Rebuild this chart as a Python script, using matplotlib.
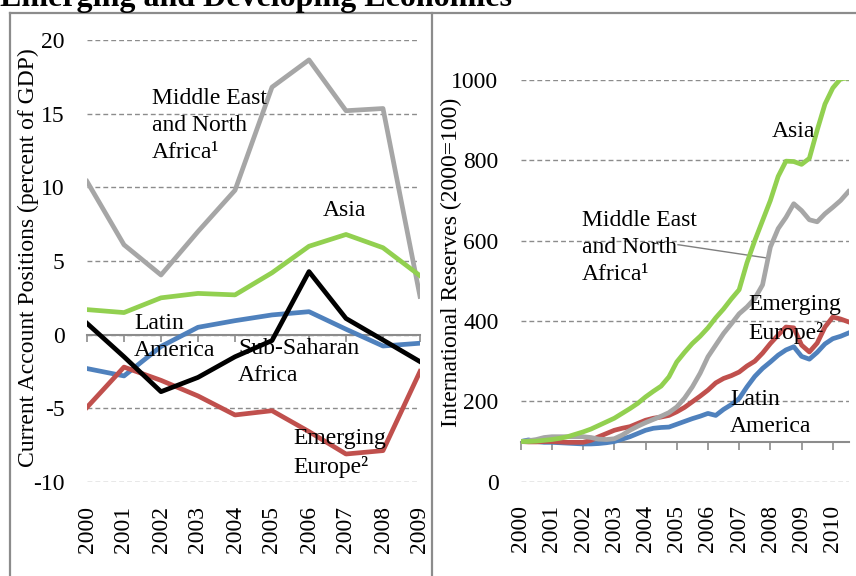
import matplotlib
matplotlib.use("Agg")
import matplotlib.pyplot as plt
from matplotlib.lines import Line2D

plt.rcParams['font.family'] = ['Liberation Serif', 'DejaVu Serif']
plt.rcParams['axes.unicode_minus'] = False

# ---------------- Left panel data: current account (% of GDP) ----------------
years_ca = [2000, 2001, 2002, 2003, 2004, 2005, 2006, 2007, 2008, 2009]
ca_mena = [10.4, 6.1, 4.05, 7.0, 9.8, 16.8, 18.65, 15.2, 15.35, 2.6]
ca_asia = [1.7, 1.5, 2.5, 2.8, 2.7, 4.2, 6.0, 6.8, 5.9, 4.0]
ca_latam = [-2.3, -2.8, -0.8, 0.5, 0.95, 1.34, 1.56, 0.37, -0.77, -0.58]
ca_ssa = [0.77, -1.5, -3.87, -2.9, -1.5, -0.4, 4.28, 1.1, -0.36, -1.83]
ca_eeur = [-4.93, -2.2, -3.1, -4.16, -5.45, -5.16, -6.58, -8.1, -7.87, -2.5]
ca_yticks = [-10, -5, 0, 5, 10, 15, 20]

# ---------------- Right panel data: international reserves (2000=100) -------
t_res = [2000.00, 2000.25, 2000.50, 2000.75, 2001.00, 2001.25, 2001.50, 2001.75,
         2002.00, 2002.25, 2002.50, 2002.75, 2003.00, 2003.25, 2003.50, 2003.75,
         2004.00, 2004.25, 2004.50, 2004.75, 2005.00, 2005.25, 2005.50, 2005.75,
         2006.00, 2006.25, 2006.50, 2006.75, 2007.00, 2007.25, 2007.50, 2007.75,
         2008.00, 2008.25, 2008.50, 2008.75, 2009.00, 2009.25, 2009.50, 2009.75,
         2010.00, 2010.25, 2010.50]
res_asia = [100, 100, 101, 103, 105, 108, 112, 118, 124, 131, 140, 149, 158, 170,
            182, 195, 211, 225, 238, 261, 298, 322, 344, 362, 383, 408, 430, 455,
            478, 545, 600, 650, 700, 760, 798, 797, 790, 805, 875, 940, 980, 1003, 1005]
res_mena = [100, 102, 105, 110, 112, 112, 112, 112, 112, 110, 106, 105, 107, 116,
            128, 138, 147, 155, 163, 172, 186, 208, 236, 270, 311, 340, 369, 393,
            418, 435, 456, 490, 584, 630, 658, 692, 675, 652, 647, 667, 683, 700, 722]
res_eeur = [100, 99, 99, 100, 100, 99, 98, 98, 98, 103, 112, 120, 128, 133, 137,
            145, 153, 158, 161, 165, 174, 185, 199, 213, 228, 246, 257, 264, 273,
            288, 300, 320, 344, 365, 385, 383, 340, 323, 345, 385, 410, 405, 398]
res_latam = [100, 104, 100, 98, 98, 97, 96, 95, 94, 94, 95, 97, 100, 106, 112,
             120, 128, 133, 135, 136, 143, 150, 157, 163, 170, 165, 180, 192, 207,
             236, 262, 282, 298, 315, 328, 336, 312, 305, 322, 343, 356, 362, 370]
res_years = [2000, 2001, 2002, 2003, 2004, 2005, 2006, 2007, 2008, 2009, 2010]
res_yticks = [0, 200, 400, 600, 800, 1000]

C_GRAY = '#A6A6A6'
C_GREEN = '#92D050'
C_BLUE = '#4F81BD'
C_RED = '#C0504D'
C_BLACK = '#000000'
C_AXIS = '#8C8C8C'
FS = 17
LW = 3.4

W, H = 856, 576
fig = plt.figure(figsize=(W / 100, H / 100), dpi=100)


def fx(px):
    return px / W


def fy(py):
    return 1 - py / H


# ---------------- Left axes ----------------
axL = fig.add_axes([fx(87), fy(482), (420 - 87) / W, (482 - 40) / H])
axL.set_xlim(2000, 2009)
axL.set_ylim(-10, 20)
axL.plot(years_ca, ca_mena, color=C_GRAY, lw=LW, zorder=3)
axL.plot(years_ca, ca_asia, color=C_GREEN, lw=LW, zorder=3)
axL.plot(years_ca, ca_latam, color=C_BLUE, lw=LW, zorder=3)
axL.plot(years_ca, ca_eeur, color=C_RED, lw=LW, zorder=3)
axL.plot(years_ca, ca_ssa, color=C_BLACK, lw=LW, zorder=4)

axL.set_yticks(ca_yticks)
axL.set_yticklabels([str(v) for v in ca_yticks], fontsize=FS)
axL.yaxis.grid(True, ls=(0, (3.5, 2.2)), color=C_AXIS, lw=1.0)
axL.set_axisbelow(True)
for s in ['left', 'right', 'top']:
    axL.spines[s].set_visible(False)
axL.spines['bottom'].set_position(('data', 0))
axL.spines['bottom'].set_color(C_AXIS)
axL.spines['bottom'].set_linewidth(1.5)
axL.set_xticks(years_ca)
axL.tick_params(axis='x', direction='out', length=5, width=1.2, color=C_AXIS,
                labelbottom=False)
axL.tick_params(axis='y', length=0, pad=16)
secL = axL.secondary_xaxis(0.0)
secL.set_xticks(years_ca)
secL.set_xticklabels([str(y) for y in years_ca], rotation=90, fontsize=FS)
secL.tick_params(length=0, pad=17)
secL.spines['bottom'].set_visible(False)

lab = dict(fontsize=FS, ha='left', va='center', linespacing=1.38, zorder=5)
axL.text(2001.76, 14.2, 'Middle East\nand North\nAfrica\u00b9', **lab)
axL.text(2006.38, 8.4, 'Asia', **lab)
axL.text(2001.27, -0.15, 'Latin\nAmerica', **lab)
axL.text(2004.08, -1.88, 'Sub-Saharan\nAfrica', **lab)
axL.text(2005.59, -8.03, 'Emerging\nEurope\u00b2', **lab)

# ---------------- Right axes ----------------
axR = fig.add_axes([fx(520.7), fy(481.7), (849 - 520.7) / W, (481.7 - 80) / H])
axR.set_xlim(2000, 2010.52)
axR.set_ylim(0, 1000)
axR.plot(t_res, res_latam, color=C_BLUE, lw=LW, zorder=3)
axR.plot(t_res, res_eeur, color=C_RED, lw=LW, zorder=3)
axR.plot(t_res, res_mena, color=C_GRAY, lw=LW, zorder=3)
axR.plot(t_res, res_asia, color=C_GREEN, lw=LW, zorder=4)

axR.set_yticks(res_yticks)
axR.set_yticklabels([str(v) for v in res_yticks], fontsize=FS)
axR.yaxis.grid(True, ls=(0, (3.5, 2.2)), color=C_AXIS, lw=1.0)
axR.set_axisbelow(True)
for s in ['left', 'right', 'top']:
    axR.spines[s].set_visible(False)
axR.spines['bottom'].set_position(('data', 100))
axR.spines['bottom'].set_color(C_AXIS)
axR.spines['bottom'].set_linewidth(1.5)
axR.set_xticks(res_years)
axR.tick_params(axis='x', direction='out', length=6, width=1.2, color=C_AXIS,
                labelbottom=False)
axR.tick_params(axis='y', length=0, pad=16)
secR = axR.secondary_xaxis(0.0)
secR.set_xticks(res_years)
secR.set_xticklabels([str(y) for y in res_years], rotation=90, fontsize=FS)
secR.tick_params(length=0, pad=17)
secR.spines['bottom'].set_visible(False)

axR.text(2008.05, 873, 'Asia', **lab)
axR.text(2001.96, 583, 'Middle East\nand North\nAfrica\u00b9', **lab)
axR.plot([2005.04, 2007.88], [590, 557], color='#7F7F7F', lw=1.0, zorder=2)
axR.text(2007.29, 405, 'Emerging\nEurope\u00b2', **lab)
axR.text(2006.71, 170, 'Latin\nAmerica', **lab)

# ---------------- Axis titles ----------------
fig.text(fx(28), fy(258), 'Current Account Positions (percent of GDP)',
         rotation=90, ha='center', va='center', fontsize=FS)
fig.text(fx(451), fy(262), 'International Reserves (2000=100)',
         rotation=90, ha='center', va='center', fontsize=FS)

# ---------------- Panel frames ----------------
frame = dict(transform=fig.transFigure, color=C_AXIS, lw=1.6)
fig.add_artist(Line2D([fx(10), 1], [fy(13), fy(13)], **frame))
fig.add_artist(Line2D([fx(10), fx(10)], [0, fy(13)], **frame))
fig.add_artist(Line2D([fx(432), fx(432)], [0, fy(13)], **frame))

# ---------------- Title (cut off at top, as in the source) ----------------
fig.text(0.0, fy(6), 'Emerging and Developing Economies', fontsize=23,
         fontweight='bold', ha='left', va='baseline')

fig.savefig('out.png', dpi=100)
